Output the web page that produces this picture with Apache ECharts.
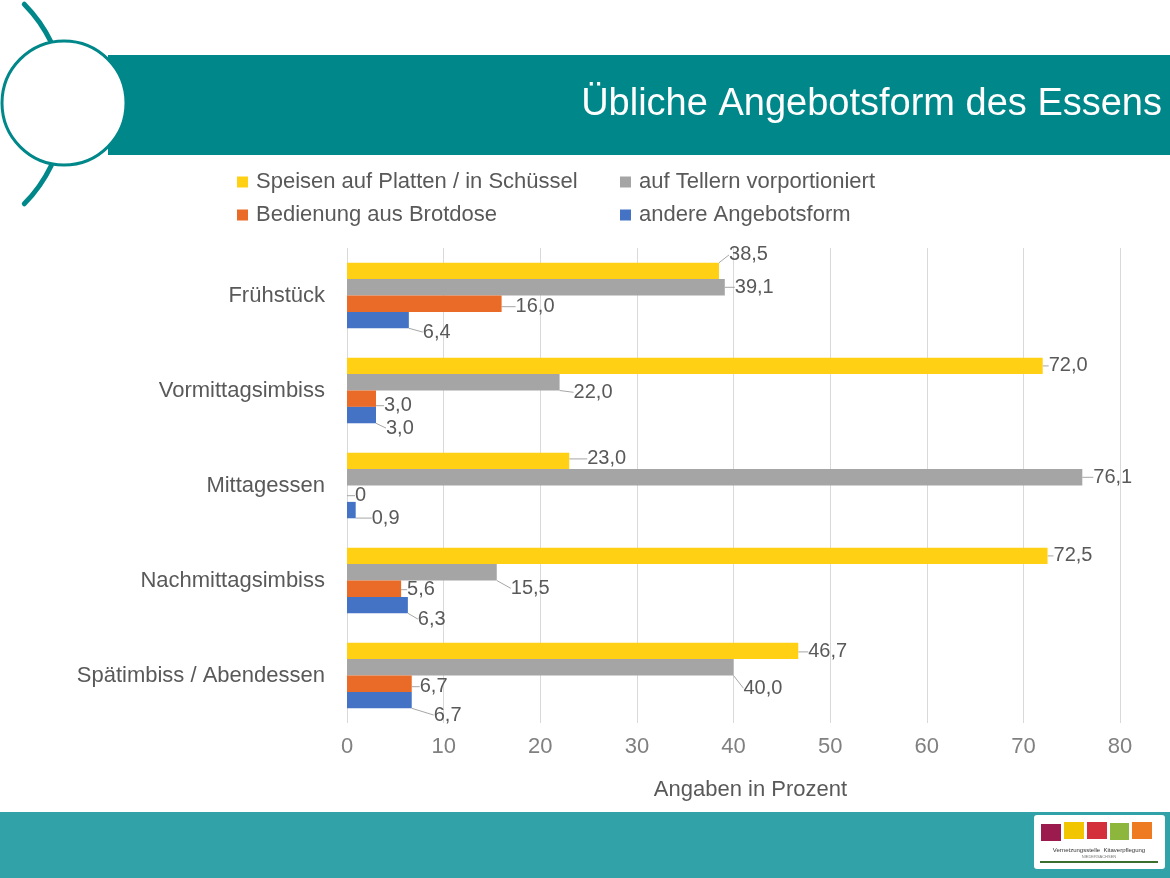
<!DOCTYPE html>
<html><head><meta charset="utf-8">
<script src="https://cdn.jsdelivr.net/npm/echarts@6/dist/echarts.min.js"></script>
<style>html,body{margin:0;padding:0;background:#fff}#c{width:1170px;height:878px}</style>
</head><body><div id="c"></div>
<script>
const categories = ['Frühstück', 'Vormittagsimbiss', 'Mittagessen', 'Nachmittagsimbiss', 'Spätimbiss / Abendessen'];
const seriesNames = ['Speisen auf Platten / in Schüssel', 'auf Tellern vorportioniert', 'Bedienung aus Brotdose', 'andere Angebotsform'];
const platten = [38.5, 72.0, 23.0, 72.5, 46.7];
const teller = [39.1, 22.0, 76.1, 15.5, 40.0];
const brotdose = [16.0, 3.0, 0, 5.6, 6.7];
const andere = [6.4, 3.0, 0.9, 6.3, 6.7];
const xTicks = [0, 10, 20, 30, 40, 50, 60, 70, 80];

const colors = ['#FFD014', '#A5A5A5', '#EA6B27', '#4472C4'];
const FONT = 'Liberation Sans, Arial, sans-serif';
// label nudges [dx, dy] per series / category (layout only)
const nudge = [
  [[4,-16],[0,0],[12,-2],[0,0],[4,1]],
  [[4,0],[8,10],[5,0],[8,16],[4,21]],
  [[8,3],[2,7],[2,2],[0,1],[2,3]],
  [[8,12],[4,13],[10,8],[4,14],[16,15]]
];
const fmt = p => p.value === 0 ? '0' : p.value.toFixed(1).replace('.', ',');
const allData = [platten, teller, brotdose, andere];

const chart = echarts.init(document.getElementById('c'));
const TEAL = '#00878A';
const legendBase = {orient: 'vertical', itemWidth: 11, itemHeight: 11, itemGap: 11, icon: 'rect', padding: 0, top: 171,
  textStyle: {fontSize: 22, color: '#595959', fontFamily: FONT, padding: [0, 0, 0, 3]}};
chart.setOption({
  animation: false,
  textStyle: {fontFamily: FONT},
  grid: {left: 347, right: 50, top: 248, bottom: 155},
  legend: [
    Object.assign({data: [seriesNames[0], seriesNames[2]], left: 237}, legendBase),
    Object.assign({data: [seriesNames[1], seriesNames[3]], left: 620}, legendBase)
  ],
  xAxis: {
    type: 'value', min: xTicks[0], max: xTicks[xTicks.length - 1], interval: 10,
    axisLine: {show: false}, axisTick: {show: false},
    splitLine: {lineStyle: {color: '#D9D9D9', width: 1}},
    axisLabel: {fontSize: 22, color: '#808080', margin: 13},
    name: 'Angaben in Prozent', nameLocation: 'middle', nameGap: 56,
    nameTextStyle: {fontSize: 22, color: '#595959', padding: [0, 0, 0, 34]}
  },
  yAxis: {
    type: 'category', data: categories, inverse: true,
    axisLine: {show: false}, axisTick: {show: false},
    axisLabel: {fontSize: 22, color: '#595959', margin: 22}
  },
  series: allData.map((d, i) => ({
    type: 'bar', name: seriesNames[i], data: d,
    itemStyle: {color: colors[i]},
    barGap: '0%', barCategoryGap: '31%',
    label: {show: true, position: 'right', distance: 6, formatter: fmt, fontSize: 20, color: '#595959'},
    labelLine: {show: true, lineStyle: {color: '#A6A6A6', width: 1}},
    labelLayout: p => ({dx: nudge[i][p.dataIndex][0], dy: nudge[i][p.dataIndex][1]})
  })),
  graphic: [
    {type: 'rect', shape: {x: 108, y: 55, width: 1062, height: 100}, style: {fill: TEAL}, z: -1},
    {type: 'arc', shape: {cx: -76.6, cy: 104, r: 141.9, startAngle: -0.78, endAngle: -0.45}, style: {stroke: TEAL, lineWidth: 5, fill: null, lineCap: 'round'}},
    {type: 'arc', shape: {cx: -76.6, cy: 104, r: 141.9, startAngle: 0.45, endAngle: 0.78}, style: {stroke: TEAL, lineWidth: 5, fill: null, lineCap: 'round'}},
    {type: 'circle', shape: {cx: 64, cy: 103, r: 62}, style: {fill: '#fff', stroke: TEAL, lineWidth: 3}},
    {type: 'text', x: 1162, y: 105, style: {text: 'Übliche Angebotsform des Essens', fill: '#fff', fontSize: 38, fontFamily: FONT, align: 'right', verticalAlign: 'middle'}},
    {type: 'rect', shape: {x: 0, y: 812, width: 1170, height: 66}, style: {fill: '#31A2A7'}},
    {type: 'rect', shape: {x: 1034, y: 815, width: 131, height: 54, r: 3}, style: {fill: '#fff'}},
    {type: 'rect', shape: {x: 1041, y: 824, width: 20, height: 17}, style: {fill: '#9B1B4E'}},
    {type: 'rect', shape: {x: 1064, y: 822, width: 20, height: 17}, style: {fill: '#F1C500'}},
    {type: 'rect', shape: {x: 1087, y: 822, width: 20, height: 17}, style: {fill: '#D4303B'}},
    {type: 'rect', shape: {x: 1110, y: 823, width: 19, height: 17}, style: {fill: '#8DB63C'}},
    {type: 'rect', shape: {x: 1132, y: 822, width: 20, height: 17}, style: {fill: '#EE7A22'}},
    {type: 'text', x: 1099, y: 850, style: {text: 'Vernetzungsstelle  Kitaverpflegung', fill: '#333', fontSize: 6, align: 'center', verticalAlign: 'middle'}},
    {type: 'text', x: 1099, y: 857, style: {text: 'NIEDERSACHSEN', fill: '#777', fontSize: 4, align: 'center', verticalAlign: 'middle'}},
    {type: 'rect', shape: {x: 1040, y: 861, width: 118, height: 2}, style: {fill: '#3C6E2E'}}
  ]
});
</script></body></html>
